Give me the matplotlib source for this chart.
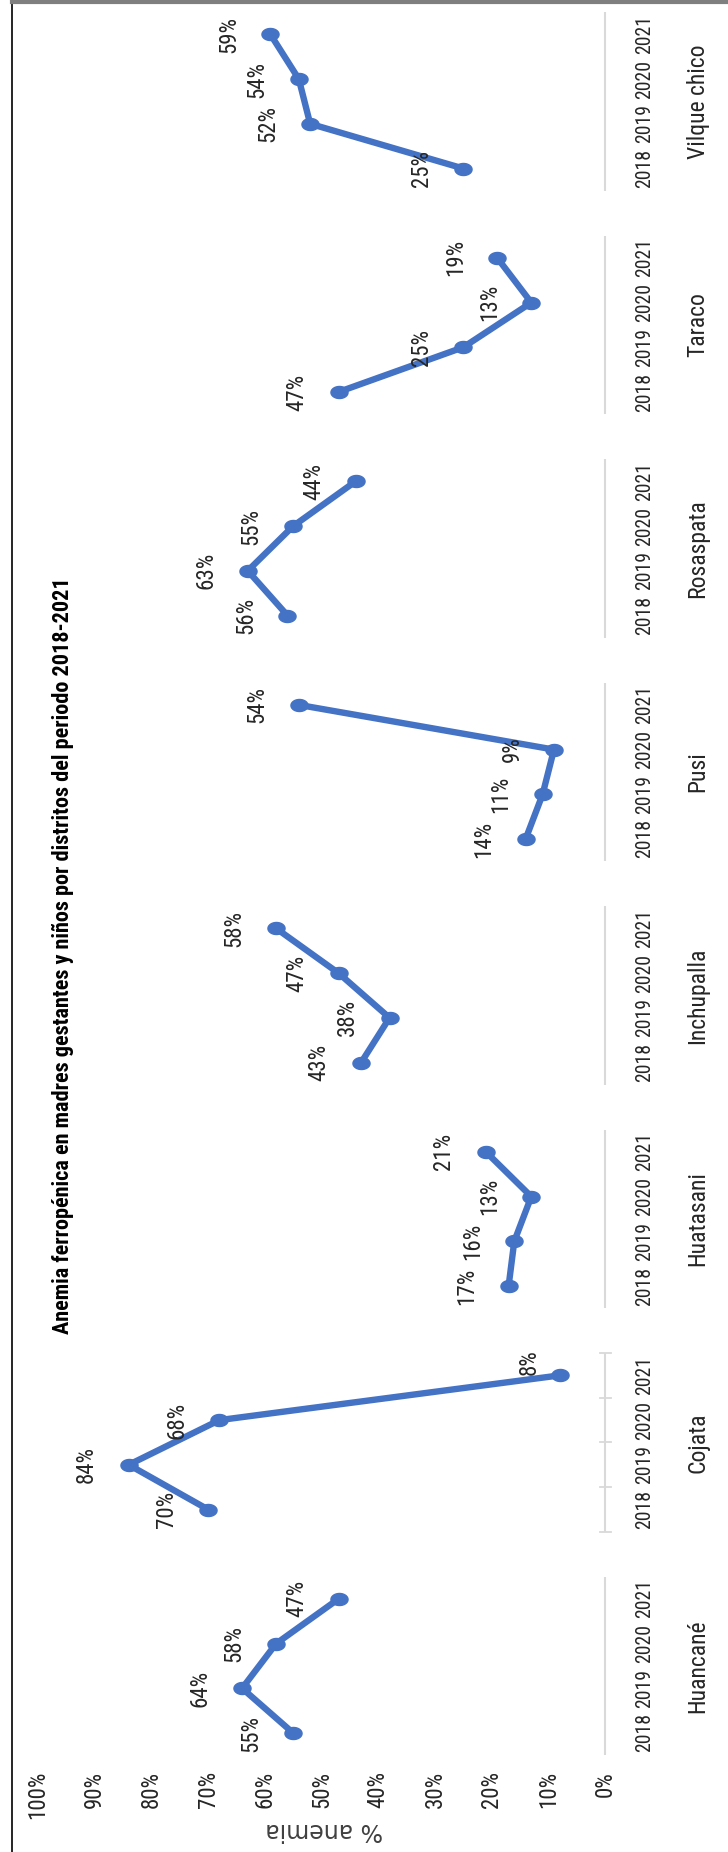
import matplotlib
matplotlib.use("Agg")
import matplotlib.pyplot as plt
from matplotlib.path import Path
from matplotlib import font_manager
import numpy as np

# ---------------- data ----------------
districts = ["Huancané", "Cojata", "Huatasani", "Inchupalla",
             "Pusi", "Rosaspata", "Taraco", "Vilque chico"]
years = ["2018", "2019", "2020", "2021"]
huancane = [55, 64, 58, 47]
cojata = [70, 84, 68, 8]
huatasani = [17, 16, 13, 21]
inchupalla = [43, 38, 47, 58]
pusi = [14, 11, 9, 54]
rosaspata = [56, 63, 55, 44]
taraco = [47, 25, 13, 19]
vilque_chico = [25, 52, 54, 59]
series = [huancane, cojata, huatasani, inchupalla, pusi, rosaspata, taraco, vilque_chico]
value_ticks = [0, 10, 20, 30, 40, 50, 60, 70, 80, 90, 100]
title = "Anemia ferropénica en madres gestantes y niños por distritos del periodo 2018-2021"
axis_title = "% anemia"

# ---------------- fonts ----------------
avail = {f.name for f in font_manager.fontManager.ttflist}
narrow = None
for cand in ["Liberation Sans Narrow", "Roboto Condensed", "DejaVu Sans Condensed",
             "Open Sans Condensed", "Noto Sans Condensed"]:
    if cand in avail:
        narrow = cand
        break
if narrow is None:
    extra = sorted(n for n in avail if ("Narrow" in n or "Condensed" in n))
    narrow = extra[0] if extra else "Liberation Sans"

# ---------------- layout (pixels of the 728x1852 canvas) ----------------
W, H = 728, 1852
X0 = 605.0      # pixel column of 0 %
PXV = 5.67      # pixels per percentage point (value grows to the left)
Y0 = 1733.0     # pixel row of first category (from top)
S = 44.7        # pixels per category slot (grows upward)
LABEL_GAP = 42  # pixels between a point and the centre of its data label
# hand-moved data labels in the reference: (district, year index) -> (dx px, dy px)
label_nudge = {("Cojata", 3): (12, -13)}

def px2x(px):
    return (X0 - px) / PXV

def py2y(py):
    return (Y0 - py) / S

fig = plt.figure(figsize=(W / 100, H / 100), dpi=100)
ax = fig.add_axes([0, 0, 1, 1])
ax.set_xlim(px2x(0), px2x(W))
ax.set_ylim(py2y(H), py2y(0))
ax.axis("off")

blue = "#4472C4"
txt = "#262626"
theta = np.linspace(0, 2 * np.pi, 80)
ellipse = Path(np.column_stack([1.42 * np.cos(theta), np.sin(theta)]), closed=True)

for g, (name, vals) in enumerate(zip(districts, series)):
    pos = [g * 5 + j for j in range(len(years))]
    # category axis segment for this group
    ax.plot([0, 0], [g * 5 - 0.5, g * 5 + 3.5], color="#d9d9d9", lw=1.5,
            solid_capstyle="butt", zorder=1)
    ax.plot(vals, pos, color=blue, lw=4.6, marker=ellipse, ms=12.3,
            mec=blue, mfc=blue, solid_capstyle="round", zorder=3)
    for j, (v, p) in enumerate(zip(vals, pos)):
        dx, dy = label_nudge.get((name, j), (0, 0))
        ax.text(v + (LABEL_GAP - dx) / PXV, p - dy / S, f"{v}%", rotation=90,
                ha="center", va="center", fontsize=16.5, family=narrow,
                color=txt, zorder=4)
    for yr, p in zip(years, pos):
        ax.text(px2x(645), p, yr, rotation=90, ha="center", va="center",
                fontsize=14.2, family=narrow, color=txt)
    ax.text(px2x(698), g * 5 + 1.5, name, rotation=90, ha="center", va="center",
            fontsize=17, family=narrow, color=txt)
    if name == "Cojata":
        for k in range(5):
            b = g * 5 - 0.5 + k
            ax.plot([px2x(600), px2x(611)], [b, b], color="#d9d9d9", lw=1.3, zorder=1)

for v in value_ticks:
    ax.text(v, py2y(1771), f"{v}%", rotation=90, ha="center", va="top",
            fontsize=16.5, family=narrow, color=txt)

ax.text(px2x(324), py2y(1830), axis_title, rotation=180, ha="center", va="center",
        fontsize=17, family="DejaVu Sans", color="#404040")

t = ax.text(px2x(63), py2y(956), title, rotation=90, ha="center", va="center",
            fontsize=18, family=narrow, fontweight="bold", color="black")
fig.canvas.draw()
bb = t.get_window_extent()
t.set_fontsize(18 * 758.0 / bb.height)

# frame (left and top edges visible)
ax.plot([px2x(12), px2x(12)], [py2y(3), py2y(H)], color="black", lw=1.2, clip_on=False)
ax.plot([px2x(12), px2x(W)], [py2y(2), py2y(2)], color="#7f7f7f", lw=3, clip_on=False)

fig.savefig("out.png", dpi=100)
